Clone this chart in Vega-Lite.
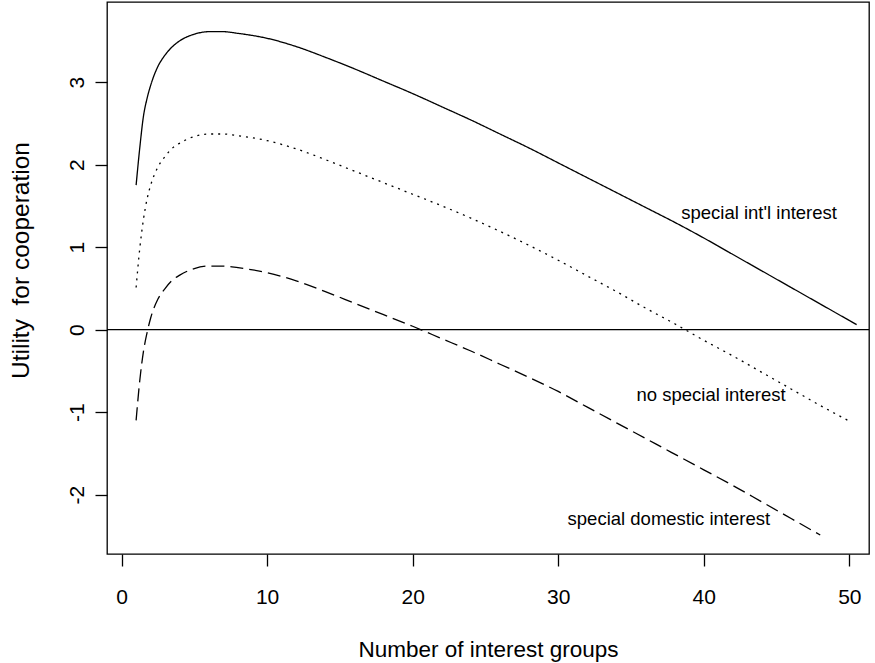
{
  "$schema": "https://vega.github.io/schema/vega-lite/v6.json",
  "width": 762,
  "height": 552,
  "autosize": {"type": "none"},
  "padding": {"left": 107, "top": 2, "right": 6, "bottom": 109},
  "background": "white",
  "config": {
    "view": {"stroke": "black", "strokeWidth": 1.3},
    "font": "Liberation Sans",
    "axis": {"grid": false, "domain": false, "tickColor": "black", "tickWidth": 1.3, "labelColor": "black", "titleColor": "black", "labelFont": "Liberation Sans", "titleFont": "Liberation Sans", "titleFontWeight": "normal"}
  },
  "datasets": {
    "curves": [
      {"x": 1, "y": 1.75, "series": "intl"},
      {"x": 1.25, "y": 2.2, "series": "intl"},
      {"x": 1.5, "y": 2.58, "series": "intl"},
      {"x": 1.75, "y": 2.8, "series": "intl"},
      {"x": 2, "y": 2.96, "series": "intl"},
      {"x": 2.5, "y": 3.19, "series": "intl"},
      {"x": 3, "y": 3.33, "series": "intl"},
      {"x": 3.5, "y": 3.43, "series": "intl"},
      {"x": 4, "y": 3.5, "series": "intl"},
      {"x": 5, "y": 3.58, "series": "intl"},
      {"x": 6, "y": 3.61, "series": "intl"},
      {"x": 7, "y": 3.61, "series": "intl"},
      {"x": 8, "y": 3.59, "series": "intl"},
      {"x": 10, "y": 3.53, "series": "intl"},
      {"x": 12, "y": 3.43, "series": "intl"},
      {"x": 14, "y": 3.3, "series": "intl"},
      {"x": 16, "y": 3.16, "series": "intl"},
      {"x": 18, "y": 3.01, "series": "intl"},
      {"x": 20, "y": 2.86, "series": "intl"},
      {"x": 22, "y": 2.7, "series": "intl"},
      {"x": 24, "y": 2.54, "series": "intl"},
      {"x": 26, "y": 2.37, "series": "intl"},
      {"x": 28, "y": 2.2, "series": "intl"},
      {"x": 30, "y": 2.02, "series": "intl"},
      {"x": 32, "y": 1.84, "series": "intl"},
      {"x": 34, "y": 1.66, "series": "intl"},
      {"x": 36, "y": 1.48, "series": "intl"},
      {"x": 38, "y": 1.3, "series": "intl"},
      {"x": 40, "y": 1.11, "series": "intl"},
      {"x": 42, "y": 0.91, "series": "intl"},
      {"x": 44, "y": 0.71, "series": "intl"},
      {"x": 46, "y": 0.51, "series": "intl"},
      {"x": 48, "y": 0.31, "series": "intl"},
      {"x": 50, "y": 0.11, "series": "intl"},
      {"x": 50.5, "y": 0.06, "series": "intl"},
      {"x": 1, "y": 0.51, "series": "none"},
      {"x": 1.25, "y": 0.98, "series": "none"},
      {"x": 1.5, "y": 1.33, "series": "none"},
      {"x": 1.75, "y": 1.58, "series": "none"},
      {"x": 2, "y": 1.75, "series": "none"},
      {"x": 2.5, "y": 1.97, "series": "none"},
      {"x": 3, "y": 2.1, "series": "none"},
      {"x": 3.5, "y": 2.2, "series": "none"},
      {"x": 4, "y": 2.26, "series": "none"},
      {"x": 5, "y": 2.34, "series": "none"},
      {"x": 6, "y": 2.37, "series": "none"},
      {"x": 7, "y": 2.37, "series": "none"},
      {"x": 8, "y": 2.35, "series": "none"},
      {"x": 10, "y": 2.29, "series": "none"},
      {"x": 12, "y": 2.19, "series": "none"},
      {"x": 14, "y": 2.06, "series": "none"},
      {"x": 16, "y": 1.92, "series": "none"},
      {"x": 18, "y": 1.78, "series": "none"},
      {"x": 20, "y": 1.64, "series": "none"},
      {"x": 22, "y": 1.5, "series": "none"},
      {"x": 24, "y": 1.35, "series": "none"},
      {"x": 26, "y": 1.19, "series": "none"},
      {"x": 28, "y": 1.02, "series": "none"},
      {"x": 30, "y": 0.84, "series": "none"},
      {"x": 32, "y": 0.65, "series": "none"},
      {"x": 34, "y": 0.46, "series": "none"},
      {"x": 36, "y": 0.26, "series": "none"},
      {"x": 38, "y": 0.07, "series": "none"},
      {"x": 40, "y": -0.13, "series": "none"},
      {"x": 42, "y": -0.32, "series": "none"},
      {"x": 44, "y": -0.52, "series": "none"},
      {"x": 46, "y": -0.72, "series": "none"},
      {"x": 48, "y": -0.92, "series": "none"},
      {"x": 50, "y": -1.11, "series": "none"},
      {"x": 1, "y": -1.1, "series": "domestic"},
      {"x": 1.25, "y": -0.62, "series": "domestic"},
      {"x": 1.5, "y": -0.27, "series": "domestic"},
      {"x": 1.75, "y": -0.04, "series": "domestic"},
      {"x": 2, "y": 0.14, "series": "domestic"},
      {"x": 2.5, "y": 0.37, "series": "domestic"},
      {"x": 3, "y": 0.5, "series": "domestic"},
      {"x": 3.5, "y": 0.6, "series": "domestic"},
      {"x": 4, "y": 0.66, "series": "domestic"},
      {"x": 5, "y": 0.74, "series": "domestic"},
      {"x": 6, "y": 0.77, "series": "domestic"},
      {"x": 7, "y": 0.77, "series": "domestic"},
      {"x": 8, "y": 0.75, "series": "domestic"},
      {"x": 10, "y": 0.69, "series": "domestic"},
      {"x": 12, "y": 0.59, "series": "domestic"},
      {"x": 14, "y": 0.46, "series": "domestic"},
      {"x": 16, "y": 0.32, "series": "domestic"},
      {"x": 18, "y": 0.18, "series": "domestic"},
      {"x": 20, "y": 0.04, "series": "domestic"},
      {"x": 22, "y": -0.11, "series": "domestic"},
      {"x": 24, "y": -0.26, "series": "domestic"},
      {"x": 26, "y": -0.42, "series": "domestic"},
      {"x": 28, "y": -0.58, "series": "domestic"},
      {"x": 30, "y": -0.75, "series": "domestic"},
      {"x": 32, "y": -0.94, "series": "domestic"},
      {"x": 34, "y": -1.13, "series": "domestic"},
      {"x": 36, "y": -1.32, "series": "domestic"},
      {"x": 38, "y": -1.51, "series": "domestic"},
      {"x": 40, "y": -1.7, "series": "domestic"},
      {"x": 42, "y": -1.89, "series": "domestic"},
      {"x": 44, "y": -2.09, "series": "domestic"},
      {"x": 46, "y": -2.29, "series": "domestic"},
      {"x": 48, "y": -2.49, "series": "domestic"}
    ],
    "labels": [
      {"x": 43.8, "y": 1.41, "text": "special int'l interest"},
      {"x": 40.5, "y": -0.79, "text": "no special interest"},
      {"x": 37.6, "y": -2.3, "text": "special domestic interest"}
    ],
    "zero": [{"y": 0}]
  },
  "layer": [
    {
      "data": {"name": "zero"},
      "mark": {"type": "rule", "color": "black", "strokeWidth": 1.3},
      "encoding": {
        "y": {"field": "y", "type": "quantitative", "scale": {"domain": [-2.72, 3.97], "nice": false, "zero": false}}
      }
    },
    {
      "data": {"name": "curves"},
      "mark": {"type": "line", "color": "black", "strokeWidth": 1.3, "interpolate": "monotone"},
      "encoding": {
        "x": {
          "field": "x", "type": "quantitative",
          "scale": {"domain": [-1, 51.35], "nice": false, "zero": false},
          "axis": {"values": [0, 10, 20, 30, 40, 50], "tickSize": 12, "labelFontSize": 21, "labelPadding": 20, "titleFontSize": 22.5, "titlePadding": 31, "title": "Number of interest groups", "labelFlush": false}
        },
        "y": {
          "field": "y", "type": "quantitative",
          "scale": {"domain": [-2.72, 3.97], "nice": false, "zero": false},
          "axis": {"values": [-2, -1, 0, 1, 2, 3], "tickSize": 12, "labelFontSize": 21, "labelAngle": 270, "labelAlign": "center", "labelBaseline": "alphabetic", "labelPadding": 12, "labelExpr": "'' + datum.value", "titleFontSize": 24.5, "title": "Utility\u00a0\u00a0for cooperation", "labelFlush": false, "titleBaseline": "alphabetic", "titleX": -79, "titleY": 258, "titleAngle": 270}
        },
        "strokeDash": {
          "field": "series", "type": "nominal",
          "scale": {"domain": ["intl", "none", "domestic"], "range": [[1, 0], [2, 5], [13, 6]]},
          "legend": null
        }
      }
    },
    {
      "data": {"name": "labels"},
      "mark": {"type": "text", "fontSize": 18.5, "font": "Liberation Sans", "color": "black", "baseline": "middle", "align": "center"},
      "encoding": {
        "x": {"field": "x", "type": "quantitative"},
        "y": {"field": "y", "type": "quantitative"},
        "text": {"field": "text", "type": "nominal"}
      }
    }
  ]
}
